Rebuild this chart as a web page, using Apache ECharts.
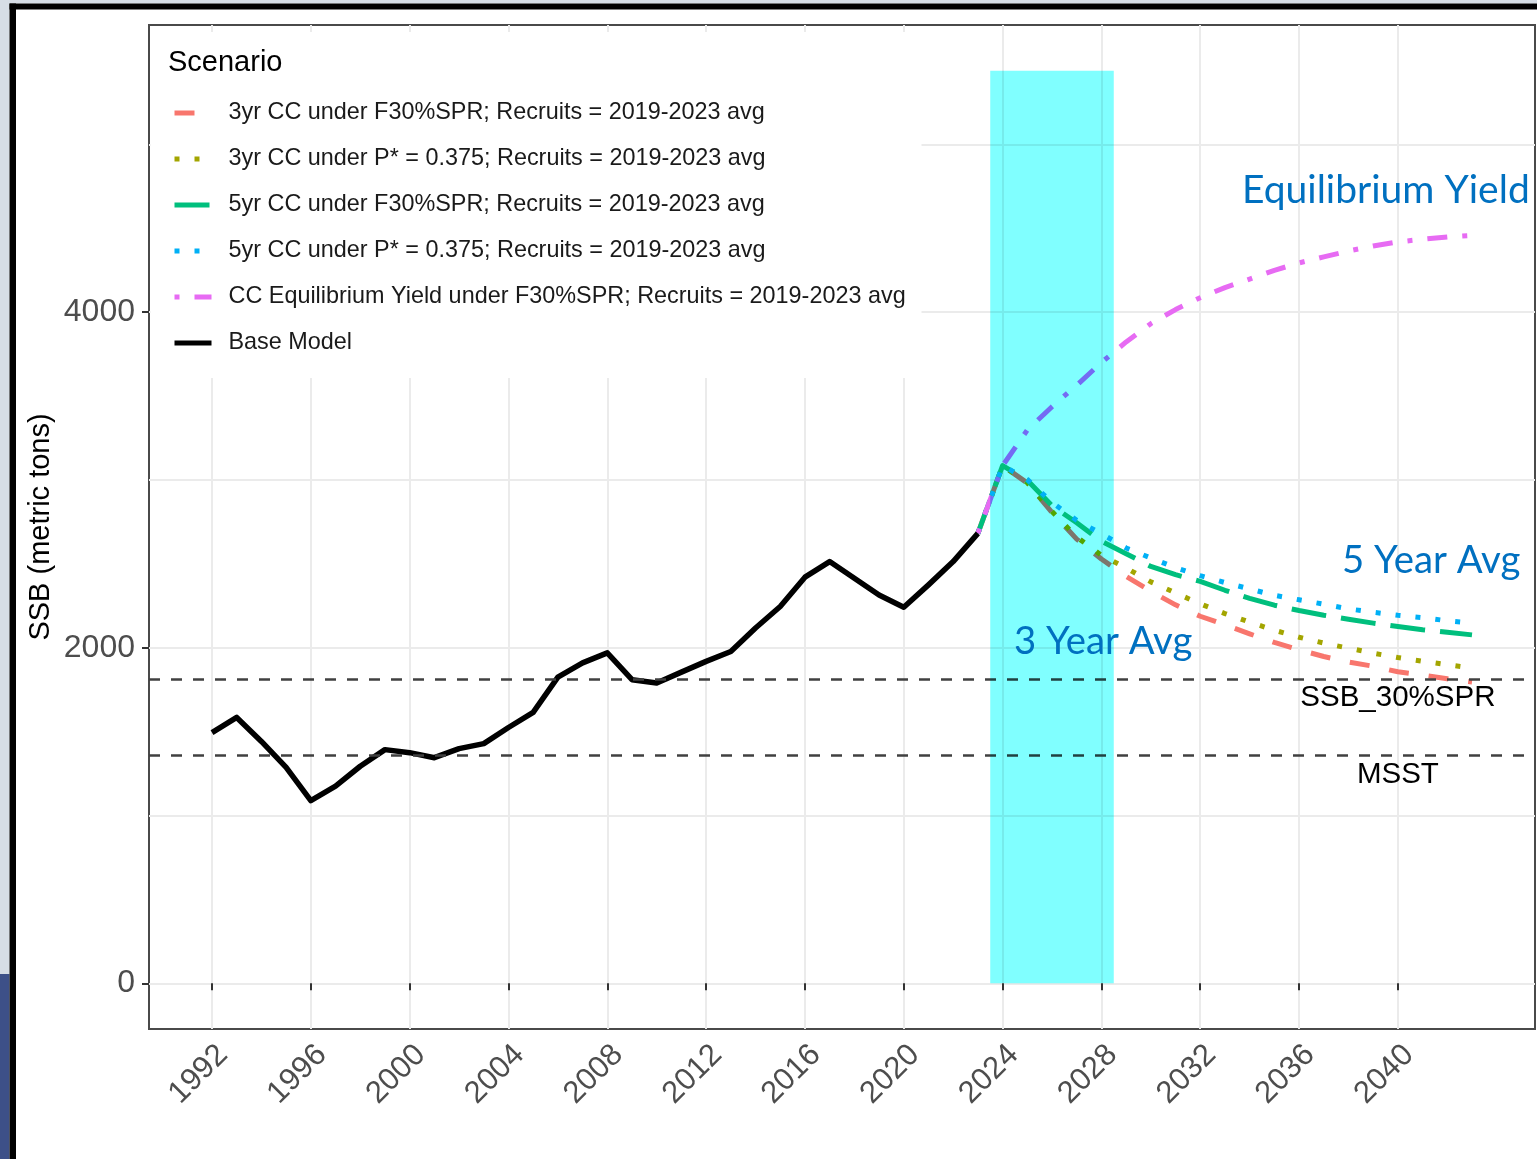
<!DOCTYPE html>
<html>
<head>
<meta charset="utf-8">
<script src="https://cdn.jsdelivr.net/npm/echarts@6/dist/echarts.min.js"></script>
<style>
  html, body { margin: 0; padding: 0; background: #ffffff; }
  #wrap { position: relative; width: 1537px; height: 1159px; }
  #chart, #tint { position: absolute; left: 0; top: 0; width: 1537px; height: 1159px; }
  #tint { mix-blend-mode: multiply; pointer-events: none; }
</style>
</head>
<body>
<div id="wrap">
  <div id="chart"></div>
  <div id="tint"></div>
</div>
<script>
// Spawning stock biomass (metric tons): assessment base model and projections
const baseYears = [1992, 1993, 1994, 1995, 1996, 1997, 1998, 1999, 2000, 2001, 2002, 2003, 2004, 2005, 2006, 2007,
                   2008, 2009, 2010, 2011, 2012, 2013, 2014, 2015, 2016, 2017, 2018, 2019, 2020, 2021, 2022, 2023];
const baseSSB = [1494, 1585, 1442, 1287, 1089, 1175, 1294, 1393, 1375, 1345, 1399, 1429, 1525, 1615, 1825, 1910,
                 1970, 1810, 1790, 1855, 1919, 1978, 2118, 2246, 2421, 2514, 2415, 2315, 2242, 2375, 2514, 2682];

const projYears = [2023, 2024, 2025, 2026, 2027, 2028, 2029, 2030, 2031, 2032, 2033,
                   2034, 2035, 2036, 2037, 2038, 2039, 2040, 2041, 2042, 2043];
const cc3yrF30   = [2682, 3086, 2982, 2807, 2648, 2529, 2426, 2337, 2256, 2188, 2137,
                    2083, 2032, 1988, 1948, 1915, 1890, 1857, 1837, 1815, 1796];
const cc3yrPstar = [2682, 3086, 2984, 2812, 2660, 2552, 2476, 2393, 2327, 2262, 2204,
                    2153, 2105, 2063, 2028, 1998, 1968, 1942, 1920, 1899, 1879];
const cc5yrF30   = [2682, 3086, 2998, 2847, 2745, 2636, 2561, 2485, 2436, 2396, 2343,
                    2295, 2254, 2222, 2194, 2170, 2147, 2127, 2107, 2093, 2077];
const cc5yrPstar = [2682, 3086, 3004, 2866, 2760, 2680, 2595, 2535, 2478, 2430, 2389,
                    2351, 2313, 2286, 2260, 2232, 2212, 2194, 2180, 2161, 2147];
const ccEquilibrium = [2682, 3085, 3298, 3437, 3565, 3700, 3823, 3932, 4016, 4087, 4147,
                       4198, 4250, 4294, 4330, 4365, 4395, 4419, 4435, 4449, 4458];

const scenarioNames = [
  '3yr CC under F30%SPR; Recruits = 2019-2023 avg',
  '3yr CC under P* = 0.375; Recruits = 2019-2023 avg',
  '5yr CC under F30%SPR; Recruits = 2019-2023 avg',
  '5yr CC under P* = 0.375; Recruits = 2019-2023 avg',
  'CC Equilibrium Yield under F30%SPR; Recruits = 2019-2023 avg',
  'Base Model'
];

// Reference points
const refNames = ['SSB_30%SPR', 'MSST'];
const refValues = [1815, 1361];
const refLabelYear = 2040;

// Catch-curve averaging window [x0, x1, y0, y1]
const ccWindow = [2023.5, 2028.5, 0, 5440];

// Axis ticks
const xTicks = [1992, 1996, 2000, 2004, 2008, 2012, 2016, 2020, 2024, 2028, 2032, 2036, 2040];
const yTicks = [0, 2000, 4000];
const yMinorTicks = [1000, 3000, 5000];

// Overlay captions
const captionTexts = ['Equilibrium Yield', '5 Year Avg', '3 Year Avg'];

const FONT = '"Liberation Sans", Arial, Helvetica, sans-serif';
const COLORS = ['#F8766D', '#A3A500', '#00BF7D', '#00B0F6', '#E76BF3', '#000000'];
const DASHES = [[20, 20], [5, 15], [35, 15], [5, 15], [5, 15, 20, 15], 'solid'];

const X_RANGE = { min: 1989.45, max: 2045.55 };
const Y_RANGE = { min: -272, max: 5712 };
const GRID = { left: 149, top: 25, width: 1386, height: 1004 };

function pairs(xs, ys) { return xs.map((x, i) => [x, ys[i]]); }

function lineSeries(idx, xs, ys, extra) {
  return Object.assign({
    type: 'line',
    name: scenarioNames[idx],
    data: pairs(xs, ys),
    symbol: 'none',
    showSymbol: false,
    smooth: false,
    z: 2,
    lineStyle: { color: COLORS[idx], width: idx === 5 ? 5.5 : 5, type: DASHES[idx], cap: 'butt', join: 'round' },
    itemStyle: { color: COLORS[idx] },
    emphasis: { disabled: true },
    silent: true
  }, extra || {});
}

function captionText(i, x, y, size) {
  return { type: 'text', z: 20, x: x, y: y,
    style: { text: captionTexts[i], font: size + 'px Lato, sans-serif', fill: '#0070C0',
             textAlign: 'left', textVerticalAlign: 'middle' } };
}

const chart = echarts.init(document.getElementById('chart'), null, { renderer: 'canvas' });

chart.setOption({
  animation: false,
  backgroundColor: '#ffffff',
  grid: Object.assign({ show: true, borderColor: '#4a4a4a', borderWidth: 2, backgroundColor: 'transparent' }, GRID),
  xAxis: Object.assign({
    type: 'value',
    axisLine: { show: false },
    axisTick: { show: true, customValues: xTicks, length: 7, lineStyle: { color: '#333333', width: 2 } },
    axisLabel: {
      customValues: xTicks, rotate: 45, align: 'right', verticalAlign: 'top', margin: 10,
      fontSize: 31, fontFamily: FONT, color: '#4d4d4d', formatter: v => String(v)
    },
    splitLine: { show: true, lineStyle: { color: '#ebebeb', width: 2 } }
  }, X_RANGE),
  yAxis: [Object.assign({
    type: 'value',
    name: 'SSB (metric tons)',
    nameLocation: 'middle',
    nameGap: 94,
    nameMoveOverlap: false,
    nameTextStyle: { fontSize: 29, fontFamily: FONT, color: '#000000' },
    axisLine: { show: false },
    axisTick: { show: true, customValues: yTicks, length: 7, lineStyle: { color: '#333333', width: 2 } },
    axisLabel: { customValues: yTicks, margin: 14, fontSize: 32, fontFamily: FONT, color: '#4d4d4d', formatter: v => String(v) },
    splitLine: { show: true, lineStyle: { color: '#ebebeb', width: 2 } }
  }, Y_RANGE), Object.assign({
    type: 'value',
    position: 'right',
    axisLine: { show: false },
    axisTick: { show: false, customValues: yMinorTicks },
    axisLabel: { show: false, customValues: yMinorTicks },
    splitLine: { show: true, lineStyle: { color: '#ebebeb', width: 2 } }
  }, Y_RANGE)],
  legend: {
    show: true,
    data: scenarioNames,
    orient: 'vertical',
    left: 172, top: 99,
    padding: 0,
    itemWidth: 37, itemHeight: 28, itemGap: 18,
    selectedMode: false,
    itemStyle: { opacity: 0 },
    lineStyle: { width: 5, opacity: 1 },
    textStyle: { fontSize: 23.4, fontFamily: FONT, color: '#1a1a1a', lineHeight: 28, padding: [0, 0, 0, 12] },
    z: 6
  },
  series: [
    lineSeries(0, projYears, cc3yrF30, {
      markLine: {
        silent: true,
        symbol: ['none', 'none'],
        label: { show: false },
        lineStyle: { color: '#404040', width: 2.6, type: [11, 11] },
        data: refValues.map(v => ({ yAxis: v }))
      },
      markPoint: {
        silent: true,
        symbol: 'rect',
        symbolSize: 0,
        label: {
          show: true, position: 'inside', offset: [0, 19.5], formatter: '{b}',
          fontSize: 29.5, fontFamily: FONT, color: '#000000'
        },
        data: refNames.map((n, i) => ({ name: n, coord: [refLabelYear, refValues[i]] }))
      }
    }),
    lineSeries(1, projYears, cc3yrPstar),
    lineSeries(2, projYears, cc5yrF30),
    lineSeries(3, projYears, cc5yrPstar),
    lineSeries(4, projYears, ccEquilibrium),
    lineSeries(5, baseYears, baseSSB)
  ],
  graphic: [
    // legend panel background
    { type: 'rect', z: 1, shape: { x: 150.5, y: 32, width: 771, height: 346 }, style: { fill: '#ffffff' } },
    { type: 'text', z: 7, x: 168, y: 63,
      style: { text: 'Scenario', font: '29px ' + FONT, fill: '#000000', textAlign: 'left', textVerticalAlign: 'middle' } },
    // captions
    captionText(0, 1242, 190, 39),
    captionText(1, 1342, 561, 38.3),
    captionText(2, 1014, 642, 38.3),
    // slide frame
    { type: 'rect', z: 30, shape: { x: 0, y: 0, width: 1537, height: 3.5 }, style: { fill: '#d6dde5' } },
    { type: 'rect', z: 30, shape: { x: 0, y: 0, width: 9.5, height: 974 }, style: { fill: '#d6dde5' } },
    { type: 'rect', z: 30, shape: { x: 0, y: 974, width: 9.5, height: 185 }, style: { fill: '#3d5088' } },
    { type: 'rect', z: 31, shape: { x: 9.5, y: 3.5, width: 1527.5, height: 6 }, style: { fill: '#000000' } },
    { type: 'rect', z: 31, shape: { x: 9.5, y: 3.5, width: 6.5, height: 1155.5 }, style: { fill: '#000000' } }
  ]
});

// Averaging window: a transparent layer on the same axes, composited with multiply
const tint = echarts.init(document.getElementById('tint'), null, { renderer: 'canvas' });
tint.setOption({
  animation: false,
  backgroundColor: 'transparent',
  grid: Object.assign({ show: false }, GRID),
  xAxis: Object.assign({ type: 'value', show: false }, X_RANGE),
  yAxis: Object.assign({ type: 'value', show: false }, Y_RANGE),
  series: [{
    type: 'custom',
    name: 'window',
    silent: true,
    data: [ccWindow],
    renderItem: function (params, api) {
      const p0 = api.coord([api.value(0), api.value(3)]);
      const p1 = api.coord([api.value(1), api.value(2)]);
      return {
        type: 'rect',
        shape: { x: p0[0], y: p0[1], width: p1[0] - p0[0], height: p1[1] - p0[1] },
        style: { fill: '#80ffff' }
      };
    }
  }]
});
</script>
</body>
</html>
